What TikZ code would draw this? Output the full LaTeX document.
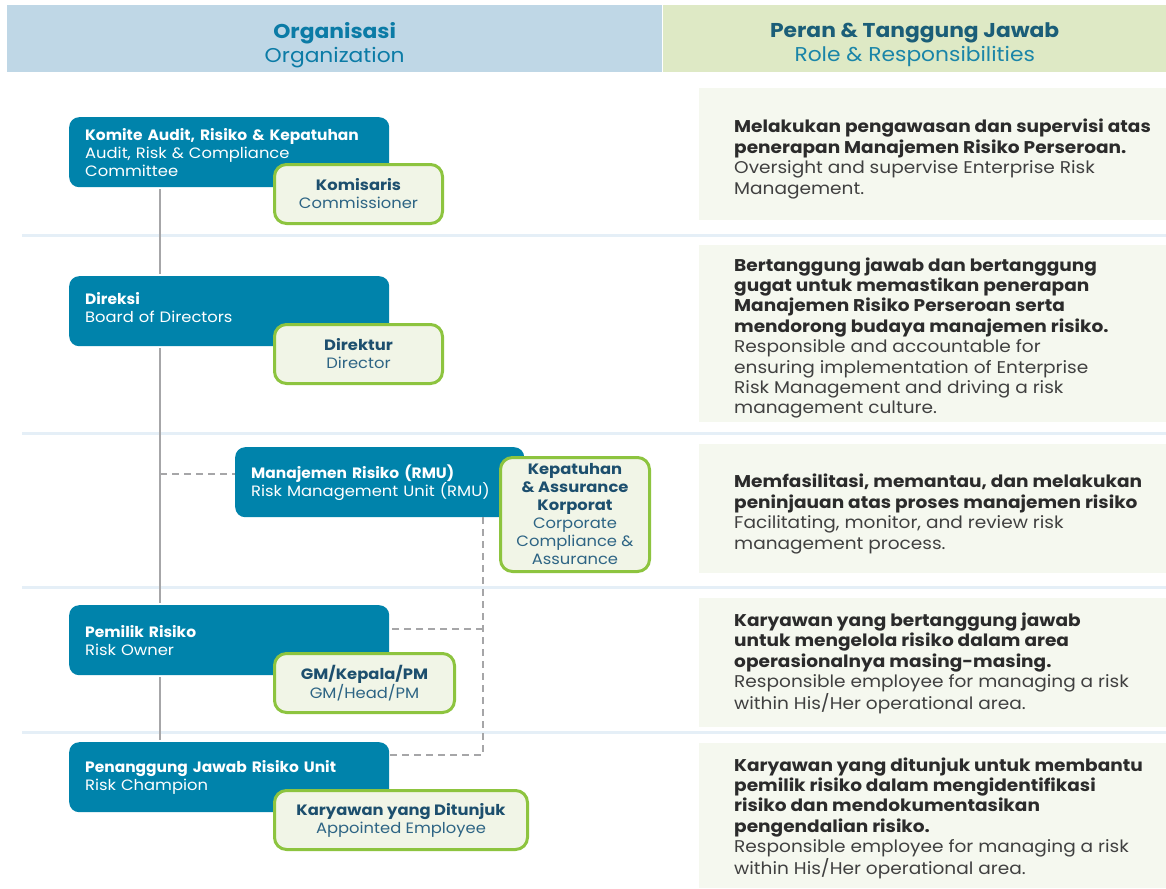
\documentclass[tikz,border=0pt]{standalone}
\usepackage{fontspec}
\setmainfont{Poppins}[FakeStretch=1.09]
\newfontfamily\narrowbf{Poppins}[FakeStretch=1.03]
\definecolor{tealbox}{HTML}{0083AB}
\definecolor{hdrblue}{HTML}{BFD7E6}
\definecolor{hdrgreen}{HTML}{DEE9C5}
\definecolor{htealA}{HTML}{0B7BA6}
\definecolor{htealB}{HTML}{1B5E78}
\definecolor{htealC}{HTML}{1A85A8}
\definecolor{gfill}{HTML}{F1F5E7}
\definecolor{gline}{HTML}{8DC43F}
\definecolor{gbold}{HTML}{1D4F6E}
\definecolor{greg}{HTML}{2D6484}
\definecolor{panelc}{HTML}{F5F8EF}
\definecolor{sepc}{HTML}{E5EFF7}
\definecolor{grayl}{HTML}{A6A6A8}
\definecolor{rbold}{HTML}{2B2B2B}
\definecolor{rreg}{HTML}{404040}
\newcommand{\tb}[1]{{\narrowbf\bfseries #1}}
\begin{document}
\begin{tikzpicture}[x=1pt,y=-1pt,
  hdr/.style={anchor=north west, inner sep=0pt, minimum height=67pt},
  hdrtext/.style={inner sep=0pt, align=center, font=\fontsize{20}{24}\selectfont},
  orgbox/.style={fill=tealbox, rounded corners=10pt, text=white, align=left, inner xsep=16pt, inner ysep=0pt, minimum height=70pt, anchor=north west, font=\fontsize{15}{18}\selectfont},
  rolebox/.style={fill=gfill, draw=gline, line width=3pt, rounded corners=12pt, align=center, text=greg, inner sep=0pt, anchor=north west, font=\fontsize{15}{18}\selectfont},
  panel/.style={fill=panelc, inner sep=0pt, anchor=north west, minimum width=467pt},
  desc/.style={anchor=west, inner sep=0pt, align=left, text=rreg, font=\fontsize{17}{20.4}\selectfont},
  sepline/.style={draw=sepc, line width=3pt},
  spine/.style={draw=grayl, line width=2.8pt},
  dashline/.style={draw=grayl, line width=2.6pt, dash pattern=on 7pt off 5pt}
]
\useasboundingbox[fill=white] (0,0) rectangle (1166,888);

% header
\node[hdr, fill=hdrblue, minimum width=655pt] (hL) at (7,5) {};
\node[hdr, fill=hdrgreen, minimum width=503pt] (hR) at (663,5) {};
\node[hdrtext] (hLt) at ([yshift=-6pt]hL.center)
  {\textcolor{htealA}{\textbf{Organisasi}}\\\textcolor{htealA}{Organization}};
\node[hdrtext] (hRt) at ([yshift=-6pt]hR.center)
  {\textcolor{htealB}{\textbf{Peran \& Tanggung Jawab}}\\\textcolor{htealC}{Role \& Responsibilities}};

% separators
\coordinate (s1) at (22,235); \coordinate (s2) at (22,433);
\coordinate (s3) at (22,587); \coordinate (s4) at (22,732);
\draw[sepline] (s1) -- (s1 -| hR.east);
\draw[sepline] (s2) -- (s2 -| hR.east);
\draw[sepline] (s3) -- (s3 -| hR.east);
\draw[sepline] (s4) -- (s4 -| hR.east);

% right panels
\node[panel, minimum height=132pt] (p1) at (699,88) {};
\node[panel, minimum height=177pt] (p2) at (699,245) {};
\node[panel, minimum height=129pt] (p3) at (699,444) {};
\node[panel, minimum height=129pt] (p4) at (699,598) {};
\node[panel, minimum height=145pt] (p5) at (699,743) {};

\node[desc] (t1) at (734,159) {\textcolor{rbold}{\textbf{Melakukan pengawasan dan supervisi atas}}\\
  \textcolor{rbold}{\textbf{penerapan Manajemen Risiko Perseroan.}}\\
  Oversight and supervise Enterprise Risk\\Management.};
\node[desc] (t2) at (734,338) {\textcolor{rbold}{\textbf{Bertanggung jawab dan bertanggung}}\\
  \textcolor{rbold}{\textbf{gugat untuk memastikan penerapan}}\\
  \textcolor{rbold}{\textbf{Manajemen Risiko Perseroan serta}}\\
  \textcolor{rbold}{\textbf{mendorong budaya manajemen risiko.}}\\
  Responsible and accountable for\\ensuring implementation of Enterprise\\Risk Management and driving a risk\\management culture.};
\node[desc] (t3) at (734,514) {\textcolor{rbold}{\textbf{Memfasilitasi, memantau, dan melakukan}}\\
  \textcolor{rbold}{\textbf{peninjauan atas proses manajemen risiko}}\\
  Facilitating, monitor, and review risk\\management process.};
\node[desc] (t4) at (734,663) {\textcolor{rbold}{\textbf{Karyawan yang bertanggung jawab}}\\
  \textcolor{rbold}{\textbf{untuk mengelola risiko dalam area}}\\
  \textcolor{rbold}{\textbf{operasionalnya masing-masing.}}\\
  Responsible employee for managing a risk\\within His/Her operational area.};
\node[desc] (t5) at (734,818) {\textcolor{rbold}{\textbf{Karyawan yang ditunjuk untuk membantu}}\\
  \textcolor{rbold}{\textbf{pemilik risiko dalam mengidentifikasi}}\\
  \textcolor{rbold}{\textbf{risiko dan mendokumentasikan}}\\
  \textcolor{rbold}{\textbf{pengendalian risiko.}}\\
  Responsible employee for managing a risk\\within His/Her operational area.};

% organisation boxes
\node[orgbox, text width=288pt] (komite) at (69,117)
  {\tb{Komite Audit, Risiko \& Kepatuhan}\\Audit, Risk \& Compliance\\Committee};
\node[orgbox, text width=288pt] (direksi) at (69,276)
  {\tb{Direksi}\\Board of Directors\\[-10pt]\mbox{}};
\node[orgbox, text width=257pt] (rmu) at (235,447)
  {\tb{Manajemen Risiko (RMU)}\\Risk Management Unit (RMU)};
\node[orgbox, text width=288pt] (pemilik) at (69,605)
  {\tb{Pemilik Risiko}\\Risk Owner};
\node[orgbox, text width=288pt] (pj) at (69,742)
  {\tb{Penanggung Jawab Risiko Unit}\\Risk Champion};

% role boxes
\node[rolebox, minimum width=168pt, minimum height=59pt] (komisaris) at (273,163)
  {\textcolor{gbold}{\textbf{Komisaris}}\\Commissioner};
\node[rolebox, minimum width=168pt, minimum height=59pt] (direktur) at (273,323)
  {\textcolor{gbold}{\textbf{Direktur}}\\Director};
\node[rolebox, minimum width=149pt, minimum height=114pt] (kep) at (499,456)
  {\textcolor{gbold}{\textbf{Kepatuhan}}\\\textcolor{gbold}{\textbf{\& Assurance}}\\\textcolor{gbold}{\textbf{Korporat}}\\Corporate\\Compliance \&\\Assurance};
\node[rolebox, minimum width=180pt, minimum height=59pt] (gm) at (273,652)
  {\textcolor{gbold}{\textbf{GM/Kepala/PM}}\\GM/Head/PM};
\node[rolebox, minimum width=253pt, minimum height=59pt] (kar) at (273,789)
  {\textcolor{gbold}{\textbf{Karyawan yang Ditunjuk}}\\Appointed Employee};

% spine
\coordinate (sx) at (160,0);
\draw[spine] ([yshift=-2pt]komite.south -| sx) -- ([yshift=2pt]direksi.north -| sx);
\draw[spine] ([yshift=-2pt]direksi.south -| sx) -- ([yshift=2pt]pemilik.north -| sx);
\draw[spine] ([yshift=-2pt]pemilik.south -| sx) -- ([yshift=2pt]pj.north -| sx);

% dashed connectors
\coordinate (d0) at (160,474);
\draw[dashline] (d0) -- (d0 -| rmu.west);
\coordinate (dm) at (483,629);
\coordinate (db) at (483,755);
\draw[dashline] (rmu.south -| db) -- (db) -- (db -| pj.east);
\draw[dashline] (dm) -- (dm -| pemilik.east);
\end{tikzpicture}
\end{document}
